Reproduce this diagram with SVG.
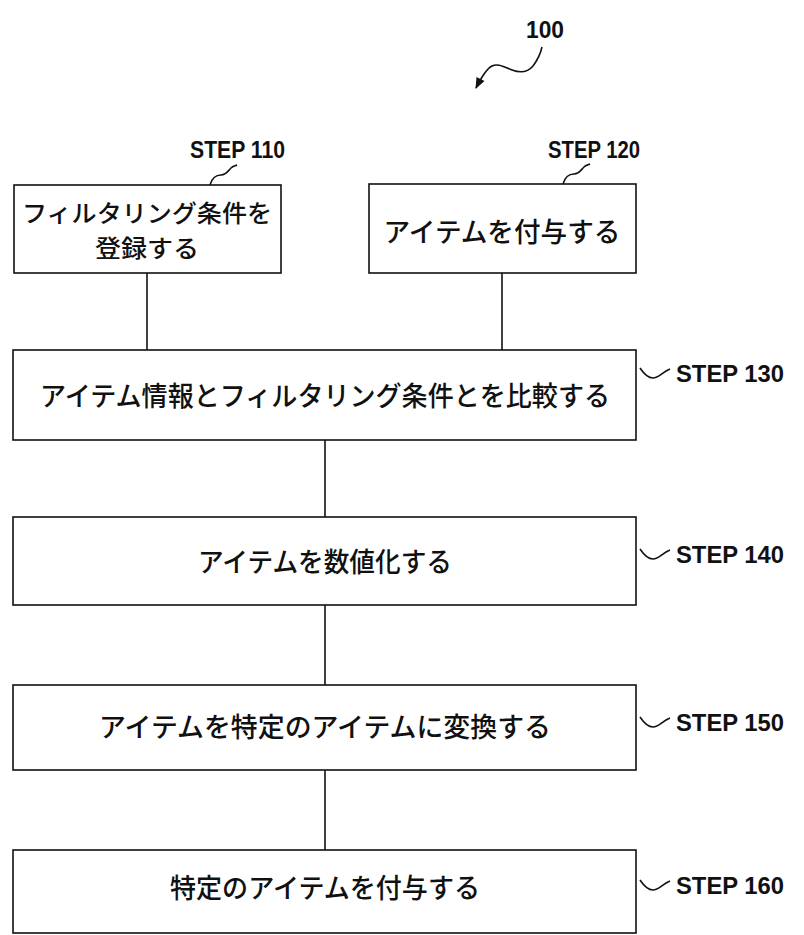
<svg xmlns="http://www.w3.org/2000/svg" width="804" height="935" viewBox="0 0 804 935">
<style>
.box{fill:#fff;stroke:#111;stroke-width:1.6}
.jp{font-family:"Noto Sans CJK JP","Noto Sans CJK SC",sans-serif;font-size:27px;font-weight:500;fill:#111;text-anchor:middle}
.jp2{font-size:24px}
.lbl{font-family:"Liberation Sans",Arial,sans-serif;font-size:23px;font-weight:bold;fill:#111}
.ln{fill:none;stroke:#111;stroke-width:1.6}
.sq{fill:none;stroke:#111;stroke-width:1.6}
</style>
<defs>
<marker id="ah" viewBox="0 0 10 10" refX="9" refY="5" markerWidth="7" markerHeight="7" orient="auto">
<path d="M0,1 L10,5 L0,9 z" fill="#111"/>
</marker>
</defs>
<rect width="804" height="935" fill="#fff"/>
<g id="ref100">
<text class="lbl" x="526" y="38" textLength="38" lengthAdjust="spacingAndGlyphs">100</text>
<path class="sq" d="M542,47 C540,56 536,62 533,66 C528,72 520,73 512,70 C504,67 498,63 492,66 C486,69 481,78 476,88" marker-end="url(#ah)"/>
</g>
<g id="connectors">
<line class="ln" x1="147" y1="273" x2="147" y2="350"/>
<line class="ln" x1="502" y1="273" x2="502" y2="350"/>
<line class="ln" x1="325" y1="440" x2="325" y2="517"/>
<line class="ln" x1="325" y1="605" x2="325" y2="685"/>
<line class="ln" x1="325" y1="770" x2="325" y2="850"/>
</g>
<g id="step110">
<rect class="box" x="14" y="185" width="267" height="88"/>
<text class="jp jp2" x="147" y="222" textLength="250" lengthAdjust="spacingAndGlyphs">フィルタリング条件を</text>
<text class="jp jp2" x="147" y="257" textLength="104" lengthAdjust="spacingAndGlyphs">登録する</text>
<text class="lbl" x="190" y="158" textLength="95" lengthAdjust="spacingAndGlyphs">STEP 110</text>
<path class="sq" d="M210,185 C212,178 216,175 221,175 C226,175 228,171 231,168 C233,166 235,166 237,165"/>
</g>
<g id="step120">
<rect class="box" x="369" y="184" width="267" height="89"/>
<text class="jp" x="502" y="242" textLength="237" lengthAdjust="spacingAndGlyphs">アイテムを付与する</text>
<text class="lbl" x="548" y="158" textLength="92" lengthAdjust="spacingAndGlyphs">STEP 120</text>
<path class="sq" d="M563,184 C565,177 569,174 574,174 C579,174 581,170 584,167 C586,165 588,165 590,164"/>
</g>
<g id="step130">
<rect class="box" x="13" y="350" width="623" height="90"/>
<text class="jp" x="325" y="406" textLength="570" lengthAdjust="spacingAndGlyphs">アイテム情報とフィルタリング条件とを比較する</text>
<path class="sq" d="M640,368 C644,374 648,378 653,378 C659,378 662,372 670,369"/>
<text class="lbl" x="676" y="382" textLength="108" lengthAdjust="spacingAndGlyphs">STEP 130</text>
</g>
<g id="step140">
<rect class="box" x="13" y="517" width="623" height="88"/>
<text class="jp" x="325" y="572" textLength="254" lengthAdjust="spacingAndGlyphs">アイテムを数値化する</text>
<path class="sq" d="M640,549 C644,555 648,559 653,559 C659,559 662,553 670,550"/>
<text class="lbl" x="676" y="563" textLength="108" lengthAdjust="spacingAndGlyphs">STEP 140</text>
</g>
<g id="step150">
<rect class="box" x="13" y="685" width="623" height="85"/>
<text class="jp" x="325" y="737" textLength="452" lengthAdjust="spacingAndGlyphs">アイテムを特定のアイテムに変換する</text>
<path class="sq" d="M640,717 C644,723 648,727 653,727 C659,727 662,721 670,718"/>
<text class="lbl" x="676" y="731" textLength="108" lengthAdjust="spacingAndGlyphs">STEP 150</text>
</g>
<g id="step160">
<rect class="box" x="13" y="850" width="623" height="83"/>
<text class="jp" x="325" y="898" textLength="310" lengthAdjust="spacingAndGlyphs">特定のアイテムを付与する</text>
<path class="sq" d="M640,880 C644,886 648,890 653,890 C659,890 662,884 670,881"/>
<text class="lbl" x="676" y="894" textLength="108" lengthAdjust="spacingAndGlyphs">STEP 160</text>
</g>
</svg>
